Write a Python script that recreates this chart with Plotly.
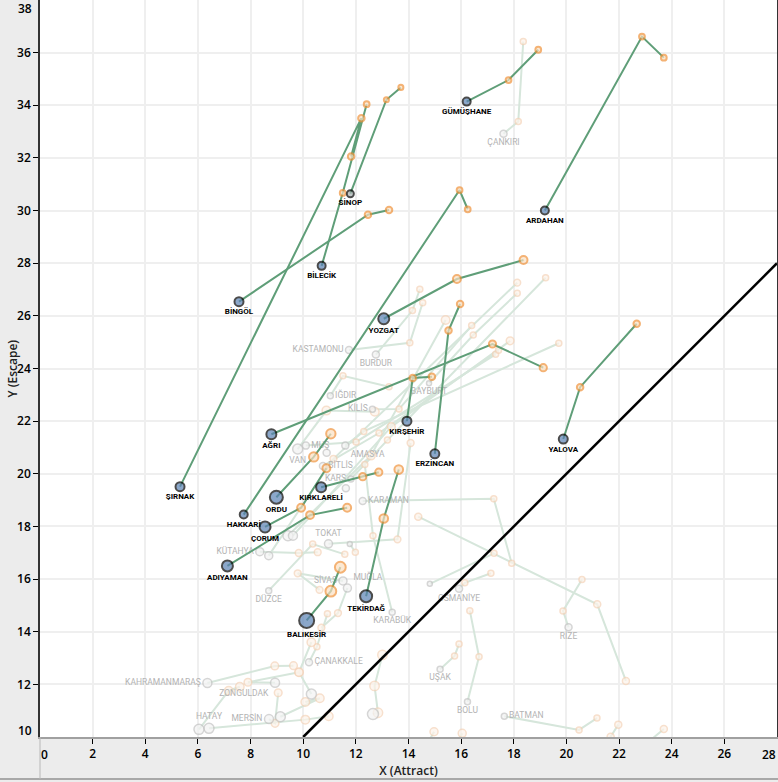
import plotly.graph_objects as go

# ---------------- highlighted provinces (first point = current, labelled) -------------
hl_names = ["GÜMÜŞHANE", "ARDAHAN", "SİNOP", "BİLECİK", "ŞIRNAK", "BİNGÖL", "HAKKARİ",
            "YOZGAT", "AĞRI", "ORDU", "ÇORUM", "ADIYAMAN", "KIRKLARELİ", "KIRŞEHİR",
            "ERZİNCAN", "YALOVA", "BALIKESİR", "TEKİRDAĞ"]
hl_x = [[16.21, 17.80, 18.93], [19.18, 22.87, 23.70], [11.79, 13.16, 13.71],
        [10.70, 11.50, 12.41], [5.32, 12.21, 11.82], [7.56, 12.46, 13.26],
        [7.74, 15.94, 16.25], [13.06, 15.84, 18.37], [8.79, 17.19, 19.12],
        [8.98, 10.40, 11.05], [8.55, 9.92, 10.88], [7.12, 10.26, 11.67],
        [10.68, 12.26, 12.87], [13.94, 14.16, 14.89], [15.00, 15.52, 15.96],
        [19.88, 20.52, 22.67], [10.13, 11.05, 11.41], [12.39, 13.06, 13.63]]
hl_y = [[34.14, 34.96, 36.11], [30.00, 36.61, 35.81], [30.64, 34.21, 34.68],
        [27.90, 30.67, 34.04], [19.51, 33.51, 32.05], [26.54, 29.84, 30.02],
        [18.45, 30.78, 30.05], [25.89, 27.40, 28.12], [21.50, 24.93, 24.03],
        [19.11, 20.64, 21.52], [17.98, 18.71, 20.21], [16.50, 18.43, 18.71],
        [19.49, 19.89, 20.06], [22.00, 23.64, 23.69], [20.76, 25.44, 26.45],
        [21.32, 23.29, 25.70], [14.43, 15.54, 16.45], [15.35, 18.30, 20.16]]
hl_size = [8, 8, 7, 8, 9, 9, 8, 11, 10, 13, 11, 11, 10, 9, 9, 9, 15, 12]

# ---------------- background provinces (first point = current) ------------------------
bg_names = ["ÇANKIRI", "KASTAMONU", "BURDUR", "IĞDIR", "KİLİS", "BAYBURT", "MUŞ", "VAN",
            "AMASYA", "BİTLİS", "KARS", "KARAMAN", "TOKAT", "KÜTAHYA", "DÜZCE", "SİVAS",
            "MUĞLA", "KARABÜK", "OSMANİYE", "ÇANAKKALE", "UŞAK", "BOLU", "BATMAN", "RİZE",
            "KAHRAMANMARAŞ", "ZONGULDAK", "HATAY", "MERSİN",
            "", "", "", "", "", "", "", "", "", "", ""]
bg_pos = ["bottom center", "middle left", "bottom center", "middle right", "middle left",
          "bottom center", "middle right", "bottom center", "bottom right", "middle right",
          "middle left", "middle right", "top center", "middle left", "bottom center",
          "middle left", "top right", "bottom center", "bottom center", "middle right",
          "bottom center", "bottom center", "middle right", "bottom center", "middle left",
          "bottom left", "top center", "middle left",
          "", "", "", "", "", "", "", "", "", "", ""]
bg_x = [[17.61, 18.17, 18.36], [11.74, 14.05, 14.54], [12.76, 14.15, 14.43],
        [11.03, 11.51, 13.26], [12.63, 13.64, 16.40], [14.78, 16.46, 18.13],
        [10.10, 12.01, 17.31], [9.79, 10.88, 12.72], [11.60, 12.30, 19.71],
        [10.75, 12.88, 17.42], [11.81, 13.20, 19.21], [12.26, 17.24, 17.92],
        [10.96, 13.58, 14.08], [8.35, 9.83, 10.55], [8.69, 10.36, 11.58],
        [11.51, 9.79, 10.62], [11.68, 11.32, 10.69], [13.38, 12.65, 12.34],
        [15.92, 16.14, 17.13], [10.22, 10.52, 10.92], [15.20, 15.75, 15.92],
        [16.24, 16.68, 16.33], [17.64, 20.48, 21.16], [20.08, 19.87, 20.59],
        [6.36, 8.92, 9.63], [8.93, 7.90, 9.84], [6.42, 10.08, 10.97], [8.70, 8.93, 9.05],
        [6.04, 7.17, 7.59], [9.42, 12.57, 15.41], [9.61, 13.35, 17.86],
        [8.69, 11.15, 18.13], [11.77, 11.98], [11.62], [10.89],
        [10.31, 9.84, 10.31], [9.13, 10.63, 10.08], [12.65, 12.84, 12.71, 13.01],
        [14.81, 17.25]]
bg_y = [[32.92, 33.38, 36.42], [24.70, 24.98, 26.50], [24.53, 26.20, 27.01],
        [22.96, 23.72, 23.31], [22.45, 22.46, 25.63], [23.44, 25.27, 26.86],
        [21.07, 21.21, 24.54], [20.94, 22.40, 22.36], [21.07, 21.61, 24.96],
        [20.30, 21.55, 24.69], [19.80, 21.28, 27.45], [18.97, 19.05, 16.60],
        [17.34, 17.51, 21.17], [17.04, 16.99, 17.02], [15.56, 17.33, 16.94],
        [15.93, 16.22, 15.59], [15.66, 14.71, 14.15], [14.74, 17.65, 20.35],
        [15.63, 15.86, 16.22], [12.84, 13.43, 14.68], [12.57, 13.08, 13.53],
        [11.34, 13.05, 14.80], [10.79, 10.27, 10.72], [14.17, 14.79, 15.98],
        [12.05, 12.70, 12.71], [12.06, 12.08, 12.46], [10.33, 10.66, 10.79],
        [10.68, 10.52, 11.68],
        [10.29, 11.76, 11.91], [17.65, 20.69, 25.84], [17.65, 21.79, 25.05],
        [16.89, 20.57, 27.26], [17.33, 17.02], [19.45], [20.80],
        [11.63, 12.46, 13.60], [10.77, 11.47, 11.33], [10.87, 10.92, 11.94, 13.12],
        [15.82, 16.98]]
bg_size = [7, 7, 7, 6, 6, 5, 7, 10, 7, 7, 6, 7, 8, 8, 6, 8, 8, 6, 7, 7, 6, 6, 6, 7,
           9, 9, 10, 9, 10, 10, 9, 8, 5, 7, 7, 10, 10, 11, 5]

# faded trajectories whose current point lies below the visible range
fd_x = [[21.40, 21.68, 21.97], [23.10, 23.70], [14.70, 14.97], [15.80, 16.04],
        [14.37, 21.17, 22.26]]
fd_y = [[9.50, 10.01, 10.47], [9.80, 10.30], [9.70, 10.20], [9.70, 10.14],
        [18.37, 15.04, 12.13]]
fd_size = [7, 7, 8, 8, 7]

x_ticks = list(range(2, 27, 2))
y_ticks = list(range(12, 37, 2))
diag = [10, 28]

GREEN = "#5f9e78"
FADE_GREEN = "#d6e6db"
ORANGE = "#f0923a"
FADE_ORANGE = "#f5d3b8"
FONT = "Open Sans"
LFONT = "Roboto"

fig = go.Figure()


def path_arrays(xs, ys):
    px, py = [], []
    for a, b in zip(xs, ys):
        px += a + [None]
        py += b + [None]
    return px, py


# background lines
bx, by = path_arrays(bg_x + fd_x, bg_y + fd_y)
fig.add_trace(go.Scatter(x=bx, y=by, mode="lines", line=dict(color=FADE_GREEN, width=2),
                         hoverinfo="skip"))
# background previous-year markers
ox, oy, osz = [], [], []
for xs, ys, s in zip(bg_x, bg_y, bg_size):
    ox += xs[1:]
    oy += ys[1:]
    osz += [max(6, s * 0.85)] * (len(xs) - 1)
for xs, ys, s in zip(fd_x, fd_y, fd_size):
    ox += xs
    oy += ys
    osz += [s] * len(xs)
fig.add_trace(go.Scatter(x=ox, y=oy, mode="markers",
                         marker=dict(size=osz, color="#fdf3ea",
                                     line=dict(color=FADE_ORANGE, width=1.5)),
                         hoverinfo="skip"))
# background current markers + labels
fig.add_trace(go.Scatter(x=[a[0] for a in bg_x], y=[b[0] for b in bg_y], mode="markers+text",
                         text=bg_names, textposition=[p if p else "bottom center" for p in bg_pos],
                         textfont=dict(family=LFONT, size=8.5, color="#b3b3b3"),
                         marker=dict(size=bg_size, color="#f3f3f3",
                                     line=dict(color="#c4c4c4", width=1.5)),
                         hoverinfo="skip"))

# diagonal y = x
fig.add_trace(go.Scatter(x=diag, y=diag, mode="lines", line=dict(color="black", width=2.5),
                         hoverinfo="skip"))

# highlighted lines
hx, hy = path_arrays(hl_x, hl_y)
fig.add_trace(go.Scatter(x=hx, y=hy, mode="lines", line=dict(color=GREEN, width=2),
                         hoverinfo="skip"))
# highlighted previous markers
px_, py_, ps_ = [], [], []
for xs, ys, s in zip(hl_x, hl_y, hl_size):
    px_ += xs[1:]
    py_ += ys[1:]
    ps_ += [max(5, s * 0.72)] * (len(xs) - 1)
fig.add_trace(go.Scatter(x=px_, y=py_, mode="markers",
                         marker=dict(size=ps_, color="#fbe0c2", line=dict(color=ORANGE, width=2)),
                         hoverinfo="skip"))
# highlighted current markers + labels
fills = ["#a9b3b3" if n == "SİNOP" else "#5b82b5" for n in hl_names]
fig.add_trace(go.Scatter(x=[a[0] for a in hl_x], y=[b[0] for b in hl_y], mode="markers+text",
                         text=hl_names, textposition="bottom center",
                         textfont=dict(family=LFONT, size=8, color="black", weight="bold"),
                         marker=dict(size=hl_size, color=fills, line=dict(color="black", width=2)),
                         hoverinfo="skip"))

tickfont = dict(family=FONT, size=12, color="black", weight=600)
titlefont = dict(family=FONT, size=12, color="#222", weight=600)
fig.update_layout(
    width=778, height=782, margin=dict(l=40, r=1, t=0, b=45, autoexpand=False),
    paper_bgcolor="#ececec", plot_bgcolor="white", showlegend=False,
    xaxis=dict(range=[0, 28], tickvals=x_ticks, ticks="outside", ticklen=5, tickcolor="black",
               tickfont=tickfont, showgrid=True, gridcolor="#efefef", gridwidth=1.5,
               showline=True, linecolor="#a0a0a0", linewidth=1.5, mirror=True, zeroline=False,
               automargin=False,
               title=dict(text="X (Attract)", font=titlefont, standoff=0)),
    yaxis=dict(range=[10, 38], tickvals=y_ticks, ticks="outside", ticklen=5, tickcolor="black",
               tickfont=tickfont, showgrid=True, gridcolor="#efefef", gridwidth=1.5,
               showline=True, linecolor="#333333", linewidth=1.5, mirror=True, zeroline=False,
               automargin=False),
)

fig.add_annotation(text="Y (Escape)", xref="paper", x=0, xanchor="center", xshift=-28,
                   yref="paper", y=0.5, yanchor="middle", textangle=-90, showarrow=False,
                   font=titlefont)

edge_labels = [
    dict(text="38", xref="paper", x=0, xanchor="right", xshift=-6, yref="y", y=38, yanchor="middle", yshift=-8),
    dict(text="10", xref="paper", x=0, xanchor="right", xshift=-6, yref="y", y=10, yanchor="middle", yshift=7),
    dict(text="0", xref="x", x=0, xanchor="center", xshift=4, yref="paper", y=0, yanchor="top", yshift=-7),
    dict(text="28", xref="x", x=28, xanchor="center", xshift=-8, yref="paper", y=0, yanchor="top", yshift=-7),
]
for a in edge_labels:
    fig.add_annotation(showarrow=False, font=tickfont, **a)

fig.add_shape(type="line", xref="paper", yref="paper", x0=-0.06, x1=1.01, y0=-0.057, y1=-0.057,
              line=dict(color="#a8a8a8", width=2))
fig.add_shape(type="line", xref="paper", yref="paper", x0=0, x1=0, y0=0, y1=-0.057,
              line=dict(color="#b8b8b8", width=1))

fig.write_html("out.html", config={"displayModeBar": False},
               post_script="document.body.style.margin='0px';document.body.style.padding='0px';")
